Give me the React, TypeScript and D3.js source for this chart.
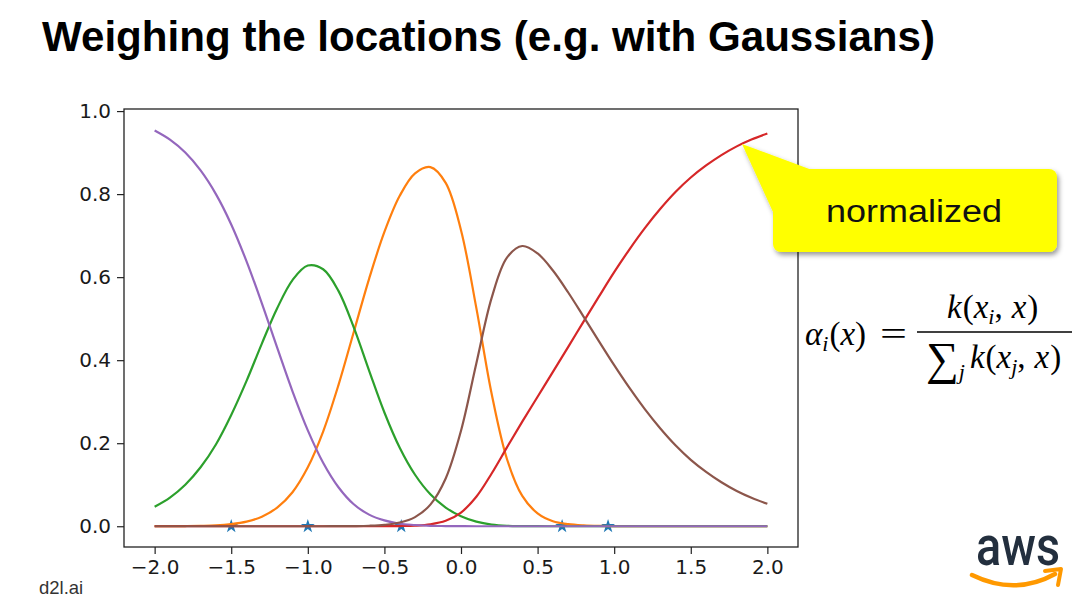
import React, { useEffect, useRef } from 'react';
import * as d3 from 'd3';

const X_VALUES = [
  -2.0, -1.9, -1.8, -1.7, -1.6, -1.5, -1.4, -1.3, -1.2, -1.1,
  -1.0, -0.9, -0.8, -0.7, -0.6, -0.5, -0.4, -0.3, -0.2, -0.1,
  0.0, 0.1, 0.2, 0.3, 0.4, 0.5, 0.6, 0.7, 0.8, 0.9,
  1.0, 1.1, 1.2, 1.3, 1.4, 1.5, 1.6, 1.7, 1.8, 1.9, 2.0,
];

const ORANGE_WEIGHTS = [
  0.0001, 0.0002, 0.0005, 0.001, 0.002, 0.005, 0.011, 0.023, 0.045, 0.082,
  0.142, 0.228, 0.340, 0.468, 0.596, 0.709, 0.796, 0.850, 0.865, 0.827,
  0.713, 0.526, 0.319, 0.162, 0.073, 0.031, 0.012, 0.005, 0.002, 0.0007,
  0.0003, 0.0001, 0, 0, 0, 0, 0, 0, 0, 0, 0,
];

const GREEN_WEIGHTS = [
  0.047, 0.069, 0.100, 0.142, 0.197, 0.268, 0.350, 0.440, 0.525, 0.593,
  0.628, 0.619, 0.567, 0.479, 0.375, 0.274, 0.189, 0.124, 0.077, 0.045,
  0.024, 0.011, 0.004, 0.001, 0.0003, 0.0001, 0, 0, 0, 0,
  0, 0, 0, 0, 0, 0, 0, 0, 0, 0, 0,
];

const RED_WEIGHTS = [
  0, 0, 0, 0, 0, 0, 0, 0, 0, 0,
  0, 0, 0, 0.00001, 0.00004, 0.0001, 0.0005, 0.0015, 0.0046, 0.013,
  0.033, 0.071, 0.127, 0.190, 0.252, 0.312, 0.372, 0.432, 0.493, 0.553,
  0.612, 0.667, 0.718, 0.764, 0.805, 0.840, 0.869, 0.894, 0.915, 0.932, 0.946,
];

const PURPLE_WEIGHTS = [
  0.953, 0.931, 0.900, 0.857, 0.800, 0.727, 0.638, 0.537, 0.430, 0.325,
  0.231, 0.153, 0.094, 0.053, 0.028, 0.014, 0.006, 0.003, 0.001, 0.0005,
  0.0002, 0, 0, 0, 0, 0, 0, 0, 0, 0,
  0, 0, 0, 0, 0, 0, 0, 0, 0, 0, 0,
];

const BROWN_WEIGHTS = [
  0, 0, 0, 0, 0, 0, 0, 0, 0, 0,
  0, 0.00004, 0.0001, 0.0004, 0.0012, 0.0034, 0.0089, 0.022, 0.052, 0.115,
  0.230, 0.392, 0.550, 0.647, 0.675, 0.657, 0.616, 0.563, 0.505, 0.446,
  0.388, 0.333, 0.282, 0.236, 0.195, 0.160, 0.131, 0.106, 0.085, 0.068, 0.054,
];

// key locations (blue stars)
const KEY_X = [-1.5, -1.0, -0.39, 0.66, 0.96];
const KEY_Y = [0, 0, 0, 0, 0];

const X_TICKS = [-2.0, -1.5, -1.0, -0.5, 0.0, 0.5, 1.0, 1.5, 2.0];
const Y_TICKS = [0.0, 0.2, 0.4, 0.6, 0.8, 1.0];

const SERIES = [
  { name: 'orange', color: '#ff7f0e', values: ORANGE_WEIGHTS },
  { name: 'green', color: '#2ca02c', values: GREEN_WEIGHTS },
  { name: 'red', color: '#d62728', values: RED_WEIGHTS },
  { name: 'purple', color: '#9467bd', values: PURPLE_WEIGHTS },
  { name: 'brown', color: '#8c564b', values: BROWN_WEIGHTS },
];

const W = 1080;
const H = 602;
const PLOT = { left: 124, top: 109, right: 798, bottom: 547 };

export default function App() {
  const xAxisRef = useRef<SVGGElement>(null);
  const yAxisRef = useRef<SVGGElement>(null);

  const x = d3.scaleLinear().domain([-2.2, 2.2]).range([PLOT.left, PLOT.right]);
  const y = d3.scaleLinear().domain([-0.05, 1.005]).range([PLOT.bottom, PLOT.top]);

  useEffect(() => {
    const fmt = d3.format('.1f');
    const xa = d3
      .axisBottom(x)
      .tickValues(X_TICKS)
      .tickFormat((d) => fmt(d as number))
      .tickSize(7)
      .tickPadding(6);
    const gx = d3.select(xAxisRef.current!);
    gx.call(xa as any);
    gx.select('.domain').remove();
    gx.selectAll('text')
      .attr('font-size', 20)
      .attr('font-family', 'DejaVu Sans, sans-serif')
      .attr('fill', '#1a1a1a');
    gx.selectAll('line').attr('stroke', '#222').attr('stroke-width', 1.2);

    const ya = d3
      .axisLeft(y)
      .tickValues(Y_TICKS)
      .tickFormat((d) => fmt(d as number))
      .tickSize(7)
      .tickPadding(6);
    const gy = d3.select(yAxisRef.current!);
    gy.call(ya as any);
    gy.select('.domain').remove();
    gy.selectAll('text')
      .attr('font-size', 20)
      .attr('font-family', 'DejaVu Sans, sans-serif')
      .attr('fill', '#1a1a1a');
    gy.selectAll('line').attr('stroke', '#222').attr('stroke-width', 1.2);
  }, []);

  const line = d3
    .line<number>()
    .x((_, i) => x(X_VALUES[i]))
    .y((d) => y(d))
    .curve(d3.curveCatmullRom.alpha(0.5));

  const star = d3.symbol().type(d3.symbolStar).size(60)() as string;

  const serif = 'Liberation Serif, Times New Roman, serif';

  return (
    <div style={{ width: W, height: H }}>
      <style>{`body{margin:0;background:#fff}`}</style>
      <svg width={W} height={H} viewBox={`0 0 ${W} ${H}`} style={{ display: 'block', background: '#fff' }}>
        <defs>
          <filter id="shadow" x="-10%" y="-10%" width="130%" height="140%">
            <feDropShadow dx="2" dy="3" stdDeviation="2.5" floodColor="#000" floodOpacity="0.4" />
          </filter>
        </defs>

        {/* title */}
        <text
          x={42}
          y={51}
          fontFamily="Liberation Sans, Arial, sans-serif"
          fontWeight="bold"
          fontSize={42}
          textLength={893}
          lengthAdjust="spacingAndGlyphs"
          fill="#000"
        >
          Weighing the locations (e.g. with Gaussians)
        </text>

        {/* key stars */}
        {KEY_X.map((kx, i) => (
          <path key={i} d={star} transform={`translate(${x(kx)},${y(KEY_Y[i])})`} fill="#1f77b4" />
        ))}

        {/* weight curves */}
        {SERIES.map((s) => (
          <path key={s.name} d={line(s.values) as string} fill="none" stroke={s.color} strokeWidth={2.2} />
        ))}

        {/* frame */}
        <rect
          x={PLOT.left}
          y={PLOT.top}
          width={PLOT.right - PLOT.left}
          height={PLOT.bottom - PLOT.top}
          fill="none"
          stroke="#222"
          strokeWidth={1.3}
        />
        <g ref={xAxisRef} transform={`translate(0,${PLOT.bottom})`} />
        <g ref={yAxisRef} transform={`translate(${PLOT.left},0)`} />

        {/* callout */}
        <g filter="url(#shadow)">
          <path d="M742,144 L812,170 L773,212 Z" fill="#ffff00" />
          <rect x={773} y={169} width={284} height={83} rx={8} fill="#ffff00" />
        </g>
        <text
          x={914}
          y={222}
          textAnchor="middle"
          fontFamily="Liberation Sans, Arial, sans-serif"
          fontSize={31}
          textLength={176}
          lengthAdjust="spacingAndGlyphs"
          fill="#111"
        >
          normalized
        </text>

        {/* formula */}
        <g fontFamily={serif} fontSize={33} fill="#000">
          <text x={805} y={345}>
            <tspan fontStyle="italic">α</tspan>
            <tspan fontStyle="italic" fontSize={22} dy={6}>i</tspan>
            <tspan dy={-6} dx={1}>(</tspan>
            <tspan fontStyle="italic">x</tspan>
            <tspan>)</tspan>
          </text>
          <text x={880} y={345} textLength={27} lengthAdjust="spacingAndGlyphs">=</text>

          <text x={947} y={318}>
            <tspan fontStyle="italic">k</tspan>
            <tspan dx={1}>(</tspan>
            <tspan fontStyle="italic">x</tspan>
            <tspan fontStyle="italic" fontSize={22} dy={6}>i</tspan>
            <tspan dy={-6}>,</tspan>
            <tspan fontStyle="italic" dx={9}>x</tspan>
            <tspan dx={1}>)</tspan>
          </text>

          <line x1={917} x2={1072} y1={332} y2={332} stroke="#000" strokeWidth={1.6} />

          <text x={926} y={374}>
            <tspan fontSize={46}>∑</tspan>
            <tspan fontStyle="italic" fontSize={22} dy={5}>j</tspan>
            <tspan fontStyle="italic" dx={5} dy={-11}>k</tspan>
            <tspan dx={1}>(</tspan>
            <tspan fontStyle="italic">x</tspan>
            <tspan fontStyle="italic" fontSize={22} dy={6}>j</tspan>
            <tspan dy={-6}>,</tspan>
            <tspan fontStyle="italic" dx={9}>x</tspan>
            <tspan dx={1}>)</tspan>
          </text>
        </g>

        {/* footer */}
        <text x={39} y={594} fontFamily="Liberation Sans, Arial, sans-serif" fontSize={18.5} fill="#333">
          d2l.ai
        </text>

        {/* aws logo */}
        <text
          x={976}
          y={565}
          fontFamily="Roboto, Liberation Sans, sans-serif"
          fontWeight={500}
          fontSize={56}
          textLength={84}
          lengthAdjust="spacingAndGlyphs"
          fill="#232f3e"
        >
          aws
        </text>
        <path d="M972,575 Q1015,596 1055,574" fill="none" stroke="#ff9900" strokeWidth={4.5} strokeLinecap="round" />
        <path d="M1045,571 L1061,569 L1058,585" fill="none" stroke="#ff9900" strokeWidth={4} strokeLinecap="round" strokeLinejoin="round" />
      </svg>
    </div>
  );
}
